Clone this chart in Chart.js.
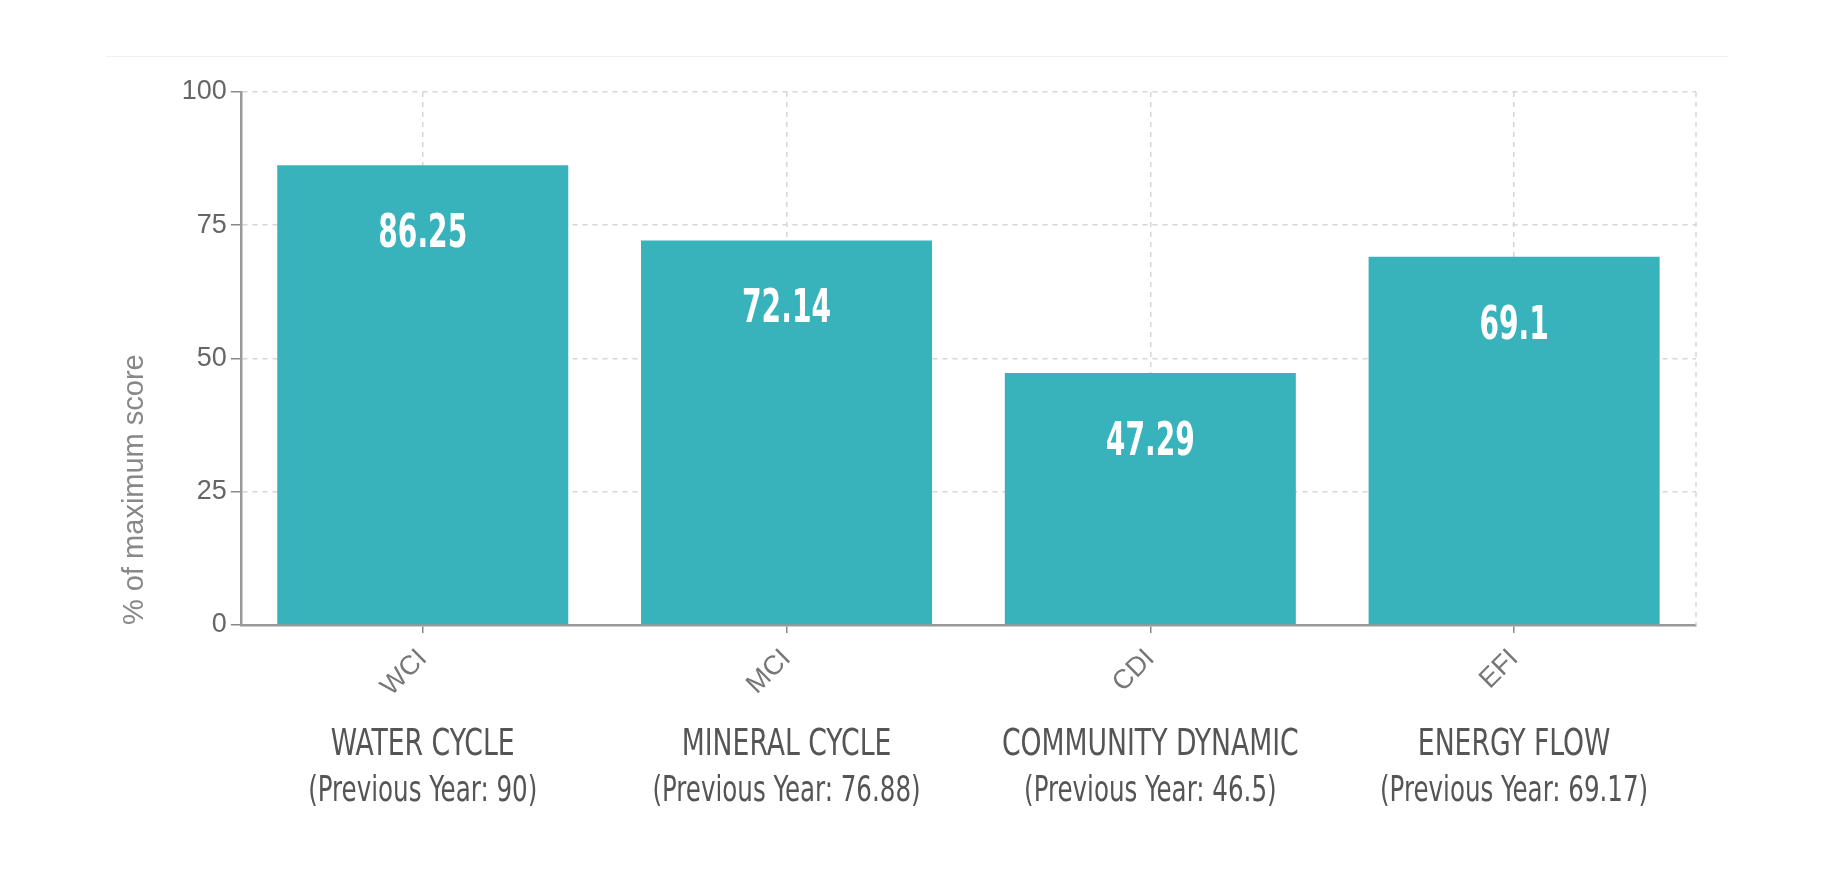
<!DOCTYPE html>
<html>
<head>
<meta charset="utf-8">
<script src="https://cdn.jsdelivr.net/npm/chart.js@4/dist/chart.umd.min.js"></script>
<style>
  html, body { margin: 0; padding: 0; background: #fff; }
  #wrap { position: relative; width: 1843px; height: 895px; }
  #rule { position: absolute; left: 106px; top: 56px; width: 1622px; height: 0; border-top: 1px solid #f1f1f1; }
  canvas { position: absolute; left: 0; top: 0; }
</style>
</head>
<body>
<div id="wrap">
  <div id="rule"></div>
  <canvas id="scores" width="1843" height="895"></canvas>
</div>
<script>
// categories and values
const codes = ["WCI", "MCI", "CDI", "EFI"];
const names = ["WATER CYCLE", "MINERAL CYCLE", "COMMUNITY DYNAMIC", "ENERGY FLOW"];
const scores = [86.25, 72.14, 47.29, 69.1];
const previousYear = [90, 76.88, 46.5, 69.17];
const yTicks = [0, 25, 50, 75, 100];

const teal = "#38b2bb";
const narrow = "'Liberation Sans Narrow', 'DejaVu Sans Condensed', sans-serif";
const helv = "'Liberation Sans', Arial, sans-serif";

// squeezed text, to get close to a tall condensed face
function squeezed(ctx, text, x, y, squeeze) {
  ctx.save();
  ctx.translate(x, y);
  ctx.scale(squeeze, 1);
  ctx.fillText(text, 0, 0);
  ctx.restore();
}

// white value text inside the top of each bar
const valueLabels = {
  id: "valueLabels",
  afterDatasetsDraw(chart) {
    const ctx = chart.ctx;
    const meta = chart.getDatasetMeta(0);
    ctx.save();
    ctx.fillStyle = "#fff";
    ctx.font = "bold 46px " + narrow;
    ctx.textAlign = "center";
    ctx.textBaseline = "middle";
    meta.data.forEach((bar, i) => {
      squeezed(ctx, String(scores[i]), bar.x, bar.y + 70, 0.68);
    });
    ctx.restore();
  }
};

// category names and last year's score under the axis
const categoryNotes = {
  id: "categoryNotes",
  afterDraw(chart) {
    const { ctx, chartArea } = chart;
    const x = chart.scales.x;
    ctx.save();
    ctx.fillStyle = "#555";
    ctx.textAlign = "center";
    ctx.textBaseline = "middle";
    names.forEach((name, i) => {
      const px = x.getPixelForTick(i);
      ctx.font = "38px " + narrow;
      squeezed(ctx, name, px, chartArea.bottom + 120, 0.78);
      ctx.font = "35px " + narrow;
      squeezed(ctx, "(Previous Year: " + previousYear[i] + ")", px, chartArea.bottom + 167, 0.78);
    });
    ctx.restore();
  }
};

// dashed line closing the right side of the plot
const rightEdge = {
  id: "rightEdge",
  beforeDatasetsDraw(chart) {
    const { ctx, chartArea } = chart;
    ctx.save();
    ctx.strokeStyle = "#d6d6d6";
    ctx.lineWidth = 1.5;
    ctx.setLineDash([5, 5]);
    ctx.beginPath();
    ctx.moveTo(chartArea.right, chartArea.top);
    ctx.lineTo(chartArea.right, chartArea.bottom);
    ctx.stroke();
    ctx.restore();
  }
};

new Chart(document.getElementById("scores"), {
  type: "bar",
  data: {
    labels: codes,
    datasets: [{
      label: "% of maximum score",
      data: scores,
      backgroundColor: teal,
      borderWidth: 0,
      categoryPercentage: 0.8,
      barPercentage: 1
    }]
  },
  plugins: [rightEdge, valueLabels, categoryNotes],
  options: {
    responsive: false,
    animation: false,
    layout: { padding: { left: 114, right: 147, top: 92, bottom: 182 } },
    plugins: {
      legend: { display: false },
      tooltip: { enabled: false }
    },
    scales: {
      x: {
        grid: {
          offset: false,
          color: "#d6d6d6",
          lineWidth: 1.5,
          tickLength: 8,
          tickColor: "#888",
          tickWidth: 1.5
        },
        border: { color: "#999", width: 2.5, dash: [5, 5] },
        ticks: {
          color: "#777",
          font: { family: helv, size: 27 },
          minRotation: 45,
          maxRotation: 45,
          padding: 10
        }
      },
      y: {
        min: 0,
        max: 100,
        afterBuildTicks(axis) {
          axis.ticks = yTicks.map(v => ({ value: v }));
        },
        grid: {
          color: "#d6d6d6",
          lineWidth: 1.5,
          tickLength: 10,
          tickColor: "#888",
          tickWidth: 1.5
        },
        border: { color: "#999", width: 2.5, dash: [5, 5] },
        ticks: {
          color: "#666",
          font: { family: helv, size: 27 },
          padding: 4
        },
        title: {
          display: true,
          text: "% of maximum score",
          align: "start",
          color: "#888",
          font: { family: helv, size: 29 },
          padding: { bottom: 25 }
        }
      }
    }
  }
});
</script>
</body>
</html>
